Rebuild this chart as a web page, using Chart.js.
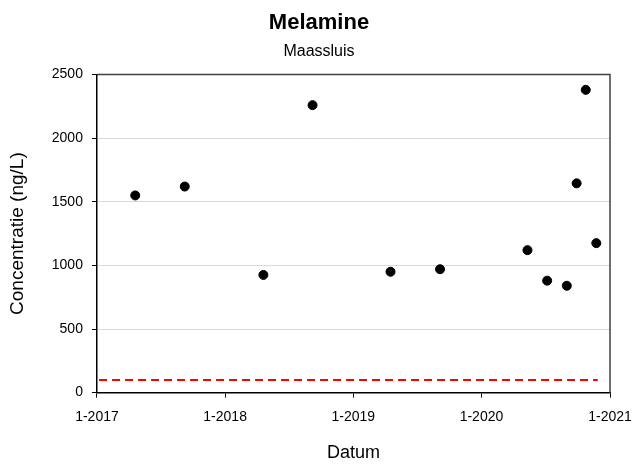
<!DOCTYPE html>
<html>
<head>
<meta charset="utf-8">
<script src="https://cdn.jsdelivr.net/npm/chart.js@4.4.0/dist/chart.umd.min.js"></script>
<style>
  html, body { margin: 0; padding: 0; background: #fff; }
  #wrap { width: 636px; height: 466px; }
</style>
</head>
<body>
<div id="wrap"><canvas id="grafiek"></canvas></div>
<script>
// meetdata Melamine - Maassluis
const datums = ['2017-04-20', '2017-09-08', '2018-04-20', '2018-09-07', '2019-04-17', '2019-09-05',
                '2020-05-11', '2020-07-06', '2020-08-31', '2020-09-28', '2020-10-24', '2020-11-23'];
const concentraties = [1550, 1620, 925, 2260, 950, 970, 1120, 880, 840, 1645, 2380, 1175];
const normLijnDatums = ['2017-01-07', '2020-11-27'];
const normWaarde = 100;
const xTickJaren = [2017, 2018, 2019, 2020, 2021];
const yTicks = [0, 500, 1000, 1500, 2000, 2500];

const ms = d => Date.parse(d + 'T00:00:00Z');
const fontNaam = "'Liberation Sans', Arial, sans-serif";

// kader rond het plotgebied
const kader = {
    id: 'kader',
    afterDraw(chart) {
        const a = chart.chartArea;
        const c = chart.ctx;
        c.save();
        c.strokeStyle = '#404040';
        c.lineWidth = 1.5;
        c.beginPath();
        c.moveTo(a.left, a.top);
        c.lineTo(a.right, a.top);
        c.lineTo(a.right, a.bottom);
        c.stroke();
        c.restore();
    }
};

new Chart(document.getElementById('grafiek').getContext('2d'), {
    type: 'scatter',
    data: {
        datasets: [{
            label: 'Melamine',
            data: datums.map((d, i) => ({ x: ms(d), y: concentraties[i] })),
            backgroundColor: '#000',
            borderColor: '#000',
            pointRadius: 4.5,
            pointHoverRadius: 4.5
        }, {
            label: 'Norm',
            type: 'line',
            data: normLijnDatums.map(d => ({ x: ms(d), y: normWaarde })),
            borderColor: '#ff0000',
            borderWidth: 2,
            borderDash: [8, 5],
            pointRadius: 0,
            fill: false
        }]
    },
    options: {
        responsive: true,
        maintainAspectRatio: false,
        animation: false,
        layout: { padding: { top: 10, right: 0, bottom: 0, left: 2 } },
        plugins: {
            legend: { display: false },
            tooltip: { enabled: false },
            title: {
                display: true,
                text: 'Melamine',
                color: '#000',
                font: { family: fontNaam, size: 22, weight: 'bold' },
                padding: { top: 0, bottom: 6 }
            },
            subtitle: {
                display: true,
                text: 'Maassluis',
                color: '#000',
                font: { family: fontNaam, size: 16 },
                padding: { top: 0, bottom: 13 }
            }
        },
        scales: {
            x: {
                type: 'linear',
                min: ms('2017-01-01'),
                max: ms('2021-01-01'),
                afterBuildTicks: axis => {
                    axis.ticks = xTickJaren.map(j => ({ value: ms(j + '-01-01') }));
                },
                afterFit: axis => {
                    axis.paddingRight = 26;
                },
                ticks: {
                    color: '#000',
                    font: { family: fontNaam, size: 14 },
                    maxRotation: 0,
                    padding: 11,
                    callback: v => '1-' + new Date(v).getUTCFullYear()
                },
                grid: { drawOnChartArea: false, tickColor: '#000', tickLength: 5 },
                border: { color: '#000', width: 1.5 },
                title: {
                    display: true,
                    text: 'Datum',
                    color: '#000',
                    font: { family: fontNaam, size: 18 },
                    padding: { top: 6, bottom: 2 }
                }
            },
            y: {
                min: 0,
                max: 2500,
                afterBuildTicks: axis => {
                    axis.ticks = yTicks.map(v => ({ value: v }));
                },
                ticks: {
                    color: '#000',
                    font: { family: fontNaam, size: 14 },
                    padding: 9,
                    callback: v => String(v)
                },
                grid: { color: '#d9d9d9', lineWidth: 1, tickColor: '#000', tickLength: 5 },
                border: { color: '#000', width: 1.5 },
                title: {
                    display: true,
                    text: 'Concentratie (ng/L)',
                    color: '#000',
                    font: { family: fontNaam, size: 19 },
                    padding: { bottom: 14 }
                }
            }
        }
    },
    plugins: [kader]
});
</script>
</body>
</html>
